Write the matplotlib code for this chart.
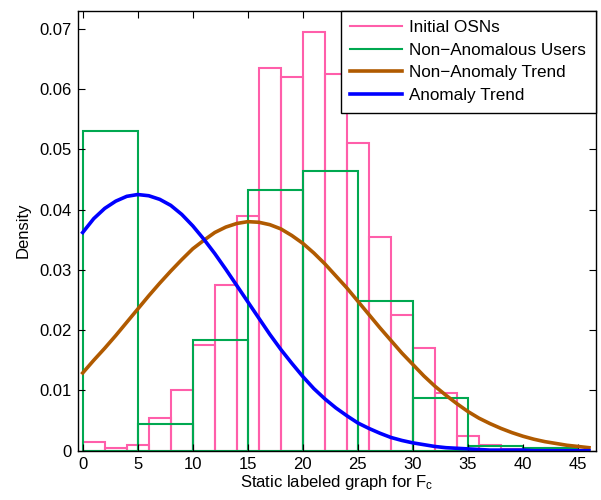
import numpy as np
import matplotlib
matplotlib.use("Agg")
from matplotlib import pyplot as plt

plt.rcParams['font.family'] = ['Liberation Sans', 'DejaVu Sans']
plt.rcParams['mathtext.fontset'] = 'custom'
plt.rcParams['mathtext.rm'] = 'Liberation Sans'
plt.rcParams['mathtext.it'] = 'Liberation Sans'

# histogram of all OSNs, bins of width 2
osn_edges = np.arange(0, 46, 2)
osn_density = [0.0015, 0.00045, 0.001, 0.0055, 0.0100, 0.0175, 0.0275, 0.0389,
               0.0635, 0.0620, 0.0695, 0.0625, 0.0510, 0.0355, 0.0225, 0.0170,
               0.0095, 0.0025, 0.0010, 0.0003, 0.0002, 0.0004, 0.0001]

# histogram of non-anomalous users, bins of width 5
user_edges = np.arange(0, 45, 5)
user_density = [0.0530, 0.0044, 0.0184, 0.0432, 0.0464, 0.0248, 0.0088, 0.0008, 0.0005]

# trend curves, one value per unit of x
trend_x = np.arange(0, 47)
non_anomaly = [0.0129, 0.0150, 0.0170, 0.0191, 0.0213, 0.0235, 0.0257, 0.0278,
               0.0298, 0.0317, 0.0335, 0.0349, 0.0362, 0.0371, 0.0377, 0.0380,
               0.0379, 0.0375, 0.0368, 0.0357, 0.0344, 0.0328, 0.0310, 0.0290,
               0.0270, 0.0248, 0.0226, 0.0204, 0.0183, 0.0162, 0.0143, 0.0124,
               0.0107, 0.0092, 0.0078, 0.0065, 0.0054, 0.0045, 0.0037, 0.0030,
               0.0024, 0.0019, 0.0015, 0.0012, 0.0009, 0.0007, 0.0005]
anomaly = [0.0362, 0.0385, 0.0402, 0.0414, 0.0422, 0.0425, 0.0423, 0.0417,
           0.0407, 0.0392, 0.0373, 0.0351, 0.0327, 0.0301, 0.0274, 0.0247,
           0.0220, 0.0193, 0.0168, 0.0145, 0.0123, 0.0103, 0.0086, 0.0071,
           0.0058, 0.0046, 0.0037, 0.0029, 0.0022, 0.0017, 0.0013, 0.0010,
           0.0007, 0.0005, 0.0004, 0.0003, 0.0002, 0.0001, 0.0001, 0.0001,
           0.0001, 0.0, 0.0, 0.0, 0.0, 0.0, 0.0]

pink = '#ff5eaa'
green = '#00a850'
brown = '#b05a00'
blue = '#0000ff'

fig = plt.figure(figsize=(6.01, 5.0), dpi=100)
ax = fig.add_axes([0.1303, 0.0986, 0.8607, 0.88])

ax.bar(osn_edges, osn_density, width=2, align='edge', fill=False,
       edgecolor=pink, linewidth=1.5)
ax.bar(user_edges, user_density, width=5, align='edge', fill=False,
       edgecolor=green, linewidth=1.5)
ax.plot(trend_x, non_anomaly, color=brown, linewidth=2.6)
ax.plot(trend_x, anomaly, color=blue, linewidth=2.6)

ax.set_xlim(-0.4, 46.6)
ax.set_ylim(0, 0.073)
ax.set_xticks(np.arange(0, 46, 5))
ax.set_yticks(np.arange(0, 0.071, 0.01))
ax.set_yticklabels(['0', '0.01', '0.02', '0.03', '0.04', '0.05', '0.06', '0.07'])
ax.tick_params(direction='in', top=True, right=True, length=5, labelsize=12)
ax.tick_params(axis='y', pad=5)
ax.tick_params(axis='x', pad=4.5)
for s in ax.spines.values():
    s.set_linewidth(1.0)

ax.set_xlabel('Static labeled graph for F$_\\mathrm{c}$', fontsize=12, labelpad=1)
ax.set_ylabel('Density', fontsize=12, labelpad=6)

handles = [plt.Line2D([], [], color=pink, lw=1.5),
           plt.Line2D([], [], color=green, lw=1.5),
           plt.Line2D([], [], color=brown, lw=2.6),
           plt.Line2D([], [], color=blue, lw=2.6)]
labels = ['Initial OSNs', 'Non\u2212Anomalous Users', 'Non\u2212Anomaly Trend', 'Anomaly Trend']
leg = ax.legend(handles, labels, loc='upper right', borderaxespad=0, fancybox=False,
                edgecolor='black', framealpha=1, fontsize=12.3, handlelength=3.05,
                handletextpad=0.4, labelspacing=0.45, borderpad=0.55)
leg.get_frame().set_linewidth(1.0)

fig.savefig('out.png', dpi=100)
